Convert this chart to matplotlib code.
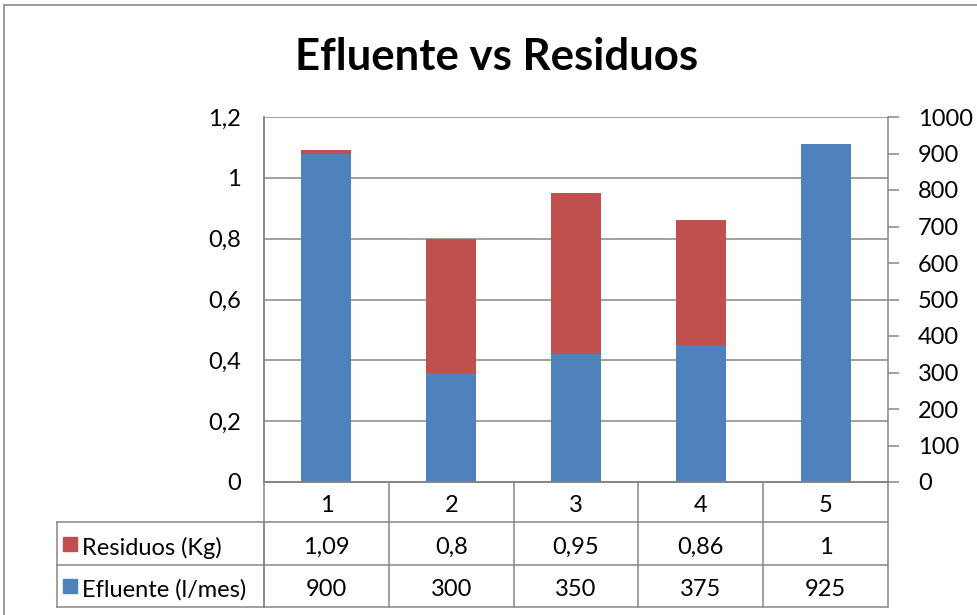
import numpy as np
import matplotlib
matplotlib.use("Agg")
from matplotlib import pyplot as plt
from matplotlib.lines import Line2D
from matplotlib.patches import Rectangle
from matplotlib.ticker import FuncFormatter, MultipleLocator

categories = ["1", "2", "3", "4", "5"]
residuos = [1.09, 0.8, 0.95, 0.86, 1.0]
efluente = [900, 300, 350, 375, 925]
residuos_labels = ["1,09", "0,8", "0,95", "0,86", "1"]
efluente_labels = ["900", "300", "350", "375", "925"]

BLUE = "#4F81BD"
RED = "#C0504D"
GRID = "#868686"
FONT = "Lato"
FS = 17

plt.rcParams["font.family"] = [FONT, "DejaVu Sans"]

W, H = 977, 615
fig = plt.figure(figsize=(W / 100, H / 100), dpi=100)

# chart outer frame (only top and left edges fall inside the image)
fig.add_artist(Line2D([4 / W, 4 / W], [0, 1 - 5 / H], color="#8C8C8C", lw=1.2))
fig.add_artist(Line2D([4 / W, 1], [1 - 5 / H, 1 - 5 / H], color="#8C8C8C", lw=1.2))

left, right, top, bottom = 264, 888, 117, 482
ax = fig.add_axes([left / W, 1 - bottom / H, (right - left) / W, (bottom - top) / H])
ax2 = ax.twinx()

x = np.arange(len(categories))
ax.bar(x, residuos, width=0.4, color=RED, zorder=2)
ax2.bar(x, efluente, width=0.4, color=BLUE, zorder=2)

ax.set_xlim(-0.5, len(categories) - 0.5)
ax.set_ylim(0, 1.2)
ax2.set_ylim(0, 1000)
ax.yaxis.set_major_locator(MultipleLocator(0.2))
ax2.yaxis.set_major_locator(MultipleLocator(100))
ax.yaxis.set_major_formatter(FuncFormatter(lambda v, p: f"{v:g}".replace(".", ",")))
ax.set_xticks([])

ax.grid(axis="y", color=GRID, lw=1.1, zorder=0)
ax.set_axisbelow(True)

for a in (ax, ax2):
    a.spines["top"].set_visible(False)
    for s in ("left", "right", "bottom"):
        a.spines[s].set_color(GRID)
        a.spines[s].set_linewidth(1.1)
ax.spines["right"].set_visible(False)
ax.tick_params(axis="y", length=0, pad=16.5, labelsize=FS)
ax2.tick_params(axis="y", length=8, width=1.1, color=GRID, pad=13.5, labelsize=FS)

fig.text(497 / W, 1 - 57 / H, "Efluente vs Residuos", ha="center", va="center",
         fontsize=31.5, fontweight="bold")

# data table under the plot
row_y = [0, -40 / 365, -83 / 365, -125 / 365]
nudge = -4 / 365
head_x = (57 - left) / (right - left)
tkw = dict(transform=ax.get_xaxis_transform(), clip_on=False, color=GRID, lw=1.1)
ax.plot([-0.5, len(categories) - 0.5], [row_y[0]] * 2, **tkw)
for i in range(len(categories) + 1):
    ax.plot([i - 0.5, i - 0.5], [row_y[0], row_y[3]], **tkw)
tkw_ax = dict(transform=ax.transAxes, clip_on=False, color=GRID, lw=1.1)
for yy in row_y[1:]:
    ax.plot([head_x, 1], [yy, yy], **tkw_ax)
ax.plot([head_x, head_x], [row_y[1], row_y[3]], **tkw_ax)
ax.plot([0, 0], [row_y[1], row_y[3]], **tkw_ax)

cell_font = dict(ha="center", va="center", fontsize=FS,
                 transform=ax.get_xaxis_transform(), clip_on=False)
for i, cat in enumerate(categories):
    ax.text(i, (row_y[0] + row_y[1]) / 2 + nudge, cat, **cell_font)
    ax.text(i, (row_y[1] + row_y[2]) / 2 + nudge, residuos_labels[i], **cell_font)
    ax.text(i, (row_y[2] + row_y[3]) / 2 + nudge, efluente_labels[i], **cell_font)

sq = 14 / (right - left)
sq_h = 14 / (bottom - top)
for (y0, y1), name, col in [((row_y[1], row_y[2]), "Residuos (Kg)", RED),
                            ((row_y[2], row_y[3]), "Efluente (l/mes)", BLUE)]:
    yc = (y0 + y1) / 2
    ax.add_patch(Rectangle(((63 - left) / (right - left), yc - sq_h / 2), sq, sq_h,
                           transform=ax.transAxes, clip_on=False, color=col))
    ax.text((82 - left) / (right - left), yc + nudge, name, ha="left", va="center",
            fontsize=FS, transform=ax.transAxes, clip_on=False)

fig.savefig("out.png", dpi=100)
